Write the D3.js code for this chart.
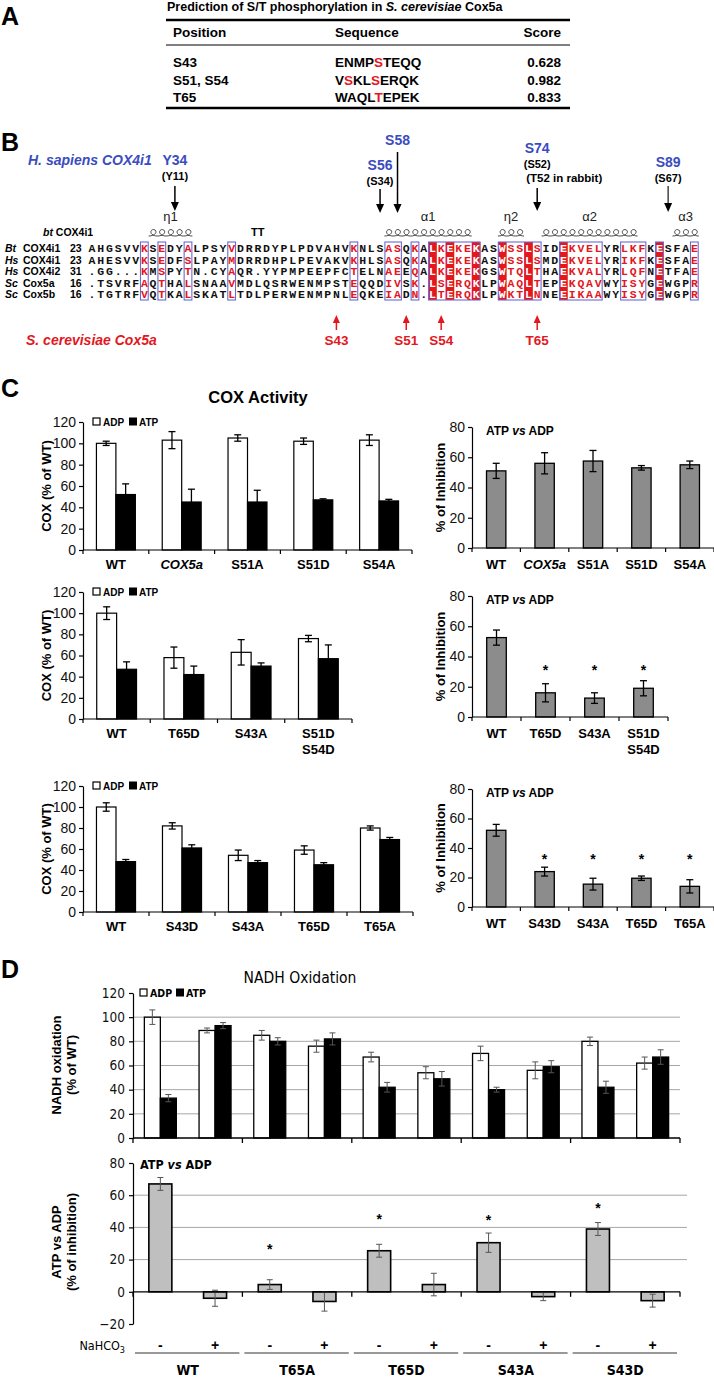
<!DOCTYPE html>
<html>
<head>
<meta charset="utf-8">
<script src="https://cdn.jsdelivr.net/npm/d3@7"></script>
<style>
body { margin: 0; background: #fff; }
text { font-family: Arial, "Liberation Sans", sans-serif; }
</style>
</head>
<body>
<script>
// ---------------- panel A : prediction table
var predTitle = [["Prediction of S/T phosphorylation in ", false], ["S. cerevisiae", true], [" Cox5a", false]];
var predHeader = ["Position", "Sequence", "Score"];
var predPositions = ["S43", "S51, S54", "T65"];
var predSequences = ["ENMPSTEQQ", "VSKLSERQK", "WAQLTEPEK"];
var predSites = [[4], [1, 4], [4]];
var predScores = ["0.628", "0.982", "0.833"];

// ---------------- panel B : alignment
var alnSpecies = ["Bt", "Hs", "Hs", "Sc", "Sc"];
var alnNames = ["COX4i1", "COX4i1", "COX4i2", "Cox5a", "Cox5b"];
var alnStart = [23, 23, 31, 16, 16];
var alnSeqs = [
	"AHGSVVKSEDYALPSYVDRRDYPLPDVAHVKNLSASQKALKEKEKASWSSLSIDEKVELYRLKFKESFAE",
	"AHESVVKSEDFSLPAYMDRRDHPLPEVAKVKHLSASQKALKEKEKASWSSLSMDEKVELYRIKFKESFAE",
	".GG...KMSPYTN.CYAQR.YYPMPEEPFCTELNAEEQALKEKEKGSWTQLTHAEKVALYRLQFNETFAE",
	".TSVRFAQTHALSNAAVMDLQSRWENMPSTEQQDIVSK.LSERQKLPWAQLTEPEKQAVWYISYGEWGPR",
	".TGTRFVQTKALSKATLTDLPERWENMPNLEQKEIADN.LTERQKLPWKTLNNEEIKAAWYISYGEWGPR"
];
var simBoxFrom = [7, 9, 12, 17, 31, 35, 38, 40, 48, 55, 62, 66, 70];
var simBoxTo   = [7, 9, 12, 17, 31, 36, 38, 45, 52, 59, 64, 66, 70];
var identCols = [40, 42, 45, 48, 51, 55, 66];
var ssNames = ["η1", "α1", "η2", "α2", "α3"];
var ssFrom = [8, 35, 48, 53, 68];
var ssTo = [12, 44, 50, 63, 70];
var hsSites = ["Y34", "S56", "S58", "S74", "S89"];
var hsSiteCols = [10.5, 34, 36, 52, 67];
var hsSiteNotes = [["(Y11)"], ["(S34)"], [], ["(S52)", "(T52 in rabbit)"], ["(S67)"]];
var scSites = ["S43", "S51", "S54", "T65"];
var scSiteCols = [29, 37, 41, 52];

// ---------------- panel C : COX activity
var c1Groups = ["WT", "COX5a", "S51A", "S51D", "S54A"];
var c1Italic = [false, true, false, false, false];
var c1ADP = [100, 103, 105, 102, 103];
var c1ADPErr = [2, 8, 3, 3, 5];
var c1ATP = [52, 45, 45, 47, 46];
var c1ATPErr = [10, 12, 11, 1, 1.5];
var c1Inhib = [51, 56, 57.5, 53, 55];
var c1InhibErr = [5, 7, 7, 1.5, 2.5];

var c2Groups = ["WT", "T65D", "S43A", "S51D\nS54D"];
var c2ADP = [100, 58, 63, 76];
var c2ADPErr = [6, 10, 12, 3];
var c2ATP = [47, 42, 50, 57];
var c2ATPErr = [7, 8, 3, 13];
var c2Inhib = [52.5, 16, 12.5, 19];
var c2InhibErr = [5, 6, 3.5, 5];
var c2Star = [false, true, true, true];

var c3Groups = ["WT", "S43D", "S43A", "T65D", "T65A"];
var c3ADP = [100, 82, 54, 59, 80];
var c3ADPErr = [4, 3, 5, 4, 2];
var c3ATP = [48, 61, 47, 45, 69];
var c3ATPErr = [2, 3, 2, 2, 2];
var c3Inhib = [52, 24, 15.5, 19.5, 14];
var c3InhibErr = [4, 3, 4, 1.5, 4.5];
var c3Star = [false, true, true, true, true];

// ---------------- panel D : NADH oxidation
var nadhStrains = ["WT", "T65A", "T65D", "S43A", "S43D"];
var nadhBicarb = ["-", "+"];
var nadhADP =    [100, 89, 85, 76, 67, 54, 70, 56, 80, 62];
var nadhADPErr = [6, 2, 4, 5, 4, 5, 6, 7, 3.5, 5];
var nadhATP =    [33, 93, 80, 82, 42, 49, 40, 59, 42, 67];
var nadhATPErr = [3, 2.5, 3, 5, 4, 6, 2, 5, 5, 6];
var nadhInhib =    [67, -4, 4.5, -6, 25.5, 4.5, 30.5, -3, 39, -5.5];
var nadhInhibErr = [4, 5, 3, 6, 4, 7, 6, 2.5, 4, 4];
var nadhStarAt =   [null, null, 28, null, 46.5, null, 46, null, 53, null];

var RED = "#e3171e", BLUE = "#3b4cc0";
var NARROW = "'Liberation Sans Narrow', 'Arial Narrow', 'DejaVu Sans Condensed', sans-serif";

var svg = d3.select("body")
	.append("svg")
	  .attr("width", 714)
	  .attr("height", 1377)
	  .style("display", "block");
svg.append("rect").attr("width", 714).attr("height", 1377).attr("fill", "#fff");

function richText(g, x, y, parts, size, weight, anchor, family) {
	var t = g.append("text")
		.attr("x", x).attr("y", y)
		.attr("font-size", size)
		.attr("font-weight", weight || "bold")
		.attr("text-anchor", anchor || "start");
	if (family) t.style("font-family", family);
	parts.forEach(function(p) {
		var s = t.append("tspan").text(p[0]);
		if (p[1]) s.attr("font-style", "italic");
		if (p[2]) s.attr("fill", p[2]);
	});
	return t;
}

function styleAxis(sel, size, family) {
	sel.select(".domain").attr("stroke", "#000").attr("stroke-width", 1.2);
	sel.selectAll(".tick line").attr("stroke", "#000").attr("stroke-width", 1.2);
	sel.selectAll(".tick text")
		.attr("font-size", size)
		.attr("fill", "#111")
		.style("font-family", family || "Arial, 'Liberation Sans', sans-serif");
}

function errBars(g, data, xf, yf, cap, color, width) {
	var e = g.append("g").selectAll("g").data(data).join("g")
		.attr("stroke", color).attr("stroke-width", width);
	e.append("line")
		.attr("x1", xf).attr("x2", xf)
		.attr("y1", function(d) { return yf(d.v + d.e); })
		.attr("y2", function(d) { return yf(d.v - d.e); });
	[1, -1].forEach(function(s) {
		e.append("line")
			.attr("x1", function(d) { return xf(d) - cap; })
			.attr("x2", function(d) { return xf(d) + cap; })
			.attr("y1", function(d) { return yf(d.v + s * d.e); })
			.attr("y2", function(d) { return yf(d.v + s * d.e); });
	});
}

function groupLabels(g, labels, italic, xf, y, size, family) {
	labels.forEach(function(l, i) {
		var t = g.append("text")
			.attr("x", xf(l))
			.attr("y", y)
			.attr("text-anchor", "middle")
			.attr("font-size", size)
			.attr("font-weight", "bold");
		if (family) t.style("font-family", family);
		if (italic && italic[i]) t.attr("font-style", "italic");
		l.split("\n").forEach(function(line, k) {
			t.append("tspan").attr("x", xf(l)).attr("dy", k ? 16 : 0).text(line);
		});
	});
}

function vertLabel(g, x, y, lines, size, family) {
	lines.forEach(function(parts, k) {
		var t = richText(g, 0, 0, parts, size, "bold", "middle", family);
		t.attr("transform", "translate(" + (x + k * 15) + "," + y + ") rotate(-90)");
	});
}

// ---------------- panel letters
var panelLetters = ["A", "B", "C", "D"];
var panelLetterY = [25, 151, 397, 978];
panelLetters.forEach(function(l, i) {
	svg.append("text").attr("x", 1).attr("y", panelLetterY[i])
		.attr("font-size", 25).attr("font-weight", "bold").text(l);
});

// ---------------- panel A
var ga = svg.append("g");
richText(ga, 167, 11, predTitle, 12.5, "bold");
ga.append("line").attr("x1", 166).attr("x2", 570).attr("y1", 20).attr("y2", 20)
	.attr("stroke", "#000").attr("stroke-width", 2.5);
ga.append("line").attr("x1", 166).attr("x2", 570).attr("y1", 45).attr("y2", 45)
	.attr("stroke", "#000").attr("stroke-width", 1);
ga.append("line").attr("x1", 166).attr("x2", 570).attr("y1", 108).attr("y2", 108)
	.attr("stroke", "#000").attr("stroke-width", 2.5);
var colX = [173, 335, 561];
predHeader.forEach(function(h, i) {
	ga.append("text").attr("x", colX[i]).attr("y", 37)
		.attr("text-anchor", i == 2 ? "end" : "start")
		.attr("font-size", 13.5).attr("font-weight", "bold").text(h);
});
var rowY = d3.scalePoint().domain(predPositions).range([67, 102]);
predPositions.forEach(function(p, i) {
	var yy = rowY(p);
	ga.append("text").attr("x", colX[0]).attr("y", yy)
		.attr("font-size", 13.5).attr("font-weight", "bold").text(p);
	var parts = predSequences[i].split("").map(function(c, k) {
		return [c, false, predSites[i].indexOf(k) >= 0 ? RED : null];
	});
	richText(ga, colX[1], yy, parts, 13.5, "bold");
	ga.append("text").attr("x", colX[2]).attr("y", yy).attr("text-anchor", "end")
		.attr("font-size", 13.5).attr("font-weight", "bold").text(predScores[i]);
});

// ---------------- panel B
var gb = svg.append("g");
var colScale = d3.scaleLinear().domain([0, 70]).range([87.6, 698.7]);   // column edge
function colC(c) { return colScale(c - 0.5); }
var alnY = d3.scaleLinear().domain([0, 4]).range([248, 294]);
var boxTop = 242, boxBot = 300;

richText(gb, 28, 165, [["H. sapiens COX4i1", true]], 14, "bold").attr("fill", BLUE);

// blue labelled arrows (human sites)
var hsLabelY = [165, 170, 145, 153, 167];
var hsArrowY = [[186, 211], [189, 213], [152, 213], [188, 211], [186, 212]];
hsSites.forEach(function(s, i) {
	var cx = colC(hsSiteCols[i]);
	gb.append("text").attr("x", cx).attr("y", hsLabelY[i]).attr("text-anchor", "middle")
		.attr("font-size", 14).attr("font-weight", "bold").attr("fill", BLUE).text(s);
	hsSiteNotes[i].forEach(function(n, k) {
		var wide = n.length > 6;
		gb.append("text").attr("x", wide ? cx - 11 : cx).attr("y", hsLabelY[i] + 15 + k * 14)
			.attr("text-anchor", wide ? "start" : "middle")
			.attr("font-size", wide ? 11.5 : 11).attr("font-weight", "bold").text(n);
	});
	var a = hsArrowY[i];
	gb.append("line").attr("x1", cx).attr("x2", cx).attr("y1", a[0]).attr("y2", a[1] - 8)
		.attr("stroke", i == 4 ? "#444" : "#000").attr("stroke-width", 1.5);
	gb.append("path")
		.attr("d", "M" + (cx - 4) + "," + (a[1] - 9) + "L" + (cx + 4) + "," + (a[1] - 9) + "L" + cx + "," + a[1] + "Z")
		.attr("fill", "#000");
});

// secondary structure
function coilPath(xs, xe, y, n) {
	var p = (xe - xs) / n, d = "M" + xs + "," + y;
	for (var i = 0; i < n; i++) {
		var a = xs + i * p;
		d += "C" + (a + p * 0.9) + "," + y + " " + (a + p * 1.05) + "," + (y - 6) + " " + (a + p * 0.55) + "," + (y - 6.5) +
			"C" + (a + p * 0.05) + "," + (y - 6) + " " + (a + p * 0.15) + "," + y + " " + (a + p) + "," + y;
	}
	return d;
}
ssNames.forEach(function(n, i) {
	var x0 = colScale(ssFrom[i] - 1), x1 = colScale(ssTo[i]);
	gb.append("path").attr("d", coilPath(x0, x1, 236, ssTo[i] - ssFrom[i] + 1))
		.attr("fill", "none").attr("stroke", "#333").attr("stroke-width", 0.9);
	gb.append("text").attr("x", (x0 + x1) / 2).attr("y", 221).attr("text-anchor", "middle")
		.attr("font-size", 13).attr("fill", "#222").text(n);
});
gb.append("text").attr("x", colC(20)).attr("y", 236).attr("text-anchor", "middle")
	.attr("font-size", 11).attr("font-weight", "bold").text("TT");
richText(gb, 43, 236, [["bt", true], [" COX4i1", false]], 10.5, "bold");

// identity fills and similarity boxes
identCols.forEach(function(c) {
	gb.append("rect").attr("x", colScale(c - 1)).attr("y", boxTop)
		.attr("width", colScale(c) - colScale(c - 1)).attr("height", boxBot - boxTop)
		.attr("fill", RED);
});
simBoxFrom.forEach(function(f, i) {
	gb.append("rect").attr("x", colScale(f - 1) + 0.5).attr("y", boxTop)
		.attr("width", colScale(simBoxTo[i]) - colScale(f - 1) - 1).attr("height", boxBot - boxTop)
		.attr("fill", "none").attr("stroke", "#6a6ad4").attr("stroke-width", 1.1);
});
function inSim(c) {
	for (var i = 0; i < simBoxFrom.length; i++) if (c >= simBoxFrom[i] && c <= simBoxTo[i]) return true;
	return false;
}
alnSeqs.forEach(function(seq, r) {
	var yy = alnY(r) + 4;
	richText(gb, 5, yy, [[alnSpecies[r], true]], 10.5, "bold");
	gb.append("text").attr("x", 23).attr("y", yy).attr("font-size", 10.5).attr("font-weight", "bold").text(alnNames[r]);
	gb.append("text").attr("x", 70).attr("y", yy).attr("font-size", 10.5).attr("font-weight", "bold").text(alnStart[r]);
	gb.selectAll(null).data(seq.split("")).join("text")
		.attr("x", function(d, k) { return colC(k + 1); })
		.attr("y", yy)
		.attr("text-anchor", "middle")
		.attr("font-size", 11.5)
		.attr("font-weight", "bold")
		.style("font-family", "'Liberation Mono', 'DejaVu Sans Mono', monospace")
		.attr("fill", function(d, k) {
			if (identCols.indexOf(k + 1) >= 0) return "#fff";
			return inSim(k + 1) ? RED : "#111";
		})
		.text(function(d) { return d; });
});

// red arrows (yeast sites)
scSites.forEach(function(s, i) {
	var cx = colC(scSiteCols[i]);
	gb.append("line").attr("x1", cx).attr("x2", cx).attr("y1", 322).attr("y2", 330)
		.attr("stroke", RED).attr("stroke-width", 1.5);
	gb.append("path").attr("d", "M" + (cx - 3.5) + ",323L" + (cx + 3.5) + ",323L" + cx + ",315Z").attr("fill", RED);
	gb.append("text").attr("x", cx).attr("y", 345).attr("text-anchor", "middle")
		.attr("font-size", 13.5).attr("font-weight", "bold").attr("fill", RED).text(s);
});
richText(gb, 26, 345, [["S. cerevisiae Cox5a", true]], 14, "bold").attr("fill", RED);

// ---------------- panel C
svg.append("text").attr("x", 258).attr("y", 403).attr("text-anchor", "middle")
	.attr("font-size", 16.5).attr("font-weight", "bold").text("COX Activity");

function legend(g, x, y, size, family) {
	g.append("rect").attr("x", x).attr("y", y - 4).attr("width", 7).attr("height", 7)
		.attr("fill", "#fff").attr("stroke", "#000").attr("stroke-width", 1.2);
	richText(g, x + 10, y + 4, [["ADP"]], size, "bold", "start", family);
	g.append("rect").attr("x", x + 36).attr("y", y - 4.5).attr("width", 8).attr("height", 8).attr("fill", "#000");
	richText(g, x + 46, y + 4, [["ATP"]], size, "bold", "start", family);
}

function pairChart(cfg) {
	var g = svg.append("g");
	var x = d3.scaleBand().domain(cfg.groups).range([cfg.x0, cfg.x1]);
	var xi = d3.scaleBand().domain(["ADP", "ATP"]).range([0, x.bandwidth()]).paddingOuter(0.69);
	var y = d3.scaleLinear().domain([0, 120]).range([cfg.yb, cfg.yt]);

	var rows = [];
	cfg.groups.forEach(function(gr, i) {
		rows.push({g: gr, k: "ADP", v: cfg.adp[i], e: cfg.adpErr[i]});
		rows.push({g: gr, k: "ATP", v: cfg.atp[i], e: cfg.atpErr[i]});
	});
	g.append("g").selectAll("rect").data(rows).join("rect")
		.attr("x", function(d) { return x(d.g) + xi(d.k); })
		.attr("y", function(d) { return y(d.v); })
		.attr("width", xi.bandwidth())
		.attr("height", function(d) { return y(0) - y(d.v); })
		.attr("fill", function(d) { return d.k == "ADP" ? "#fff" : "#000"; })
		.attr("stroke", "#000").attr("stroke-width", 1.2);
	errBars(g, rows, function(d) { return x(d.g) + xi(d.k) + xi.bandwidth() / 2; }, y, 3.5, "#000", 1.3);

	var ax = g.append("g").attr("transform", "translate(" + cfg.x0 + ",0)")
		.call(d3.axisLeft(y).tickValues(d3.range(0, 121, 20)).tickSize(4).tickSizeOuter(0).tickPadding(3));
	styleAxis(ax, 14);
	g.append("line").attr("x1", cfg.x0).attr("x2", cfg.x1).attr("y1", cfg.yb).attr("y2", cfg.yb)
		.attr("stroke", "#000").attr("stroke-width", 1.2);
	g.selectAll(null).data(d3.range(cfg.groups.length + 1)).join("line")
		.attr("x1", function(i) { return cfg.x0 + i * x.step(); })
		.attr("x2", function(i) { return cfg.x0 + i * x.step(); })
		.attr("y1", cfg.yb).attr("y2", cfg.yb + 4)
		.attr("stroke", "#000").attr("stroke-width", 1.2);
	groupLabels(g, cfg.groups, cfg.italic, function(l) { return x(l) + x.bandwidth() / 2; }, cfg.yb + 19, 13);
	legend(g, cfg.x0 + 10, cfg.yt, 10);
	vertLabel(g, 51, (cfg.yb + cfg.yt) / 2, [[["COX (% of WT)"]]], 13);
}

function inhibChart(cfg) {
	var g = svg.append("g");
	var x = d3.scaleBand().domain(cfg.groups).range([cfg.x0, cfg.x1]).paddingInner(0.6).paddingOuter(0.3);
	var y = d3.scaleLinear().domain([0, 80]).range([cfg.yb, cfg.yt]);
	var rows = cfg.groups.map(function(gr, i) { return {g: gr, v: cfg.vals[i], e: cfg.errs[i], s: cfg.stars ? cfg.stars[i] : false}; });

	g.append("g").selectAll("rect").data(rows).join("rect")
		.attr("x", function(d) { return x(d.g); })
		.attr("y", function(d) { return y(d.v); })
		.attr("width", x.bandwidth())
		.attr("height", function(d) { return y(0) - y(d.v); })
		.attr("fill", "#8c8c8c")
		.attr("stroke", "#000").attr("stroke-width", 1.3);
	errBars(g, rows, function(d) { return x(d.g) + x.bandwidth() / 2; }, y, 3.5, "#000", 1.3);
	g.selectAll(null).data(rows.filter(function(d) { return d.s; })).join("text")
		.attr("x", function(d) { return x(d.g) + x.bandwidth() / 2; })
		.attr("y", y(cfg.starAt) + 7)
		.attr("text-anchor", "middle").attr("font-size", 14).attr("font-weight", "bold")
		.text("*");

	var ax = g.append("g").attr("transform", "translate(" + cfg.x0 + ",0)")
		.call(d3.axisLeft(y).tickValues(d3.range(0, 81, 20)).tickSize(4).tickSizeOuter(0).tickPadding(3));
	styleAxis(ax, 14);
	g.append("line").attr("x1", cfg.x0).attr("x2", cfg.x1).attr("y1", cfg.yb).attr("y2", cfg.yb)
		.attr("stroke", "#000").attr("stroke-width", 1.2);
	g.selectAll(null).data(d3.range(cfg.groups.length + 1)).join("line")
		.attr("x1", function(i) { return cfg.x0 + i * x.step(); })
		.attr("x2", function(i) { return cfg.x0 + i * x.step(); })
		.attr("y1", cfg.yb).attr("y2", cfg.yb + 4)
		.attr("stroke", "#000").attr("stroke-width", 1.2);
	groupLabels(g, cfg.groups, cfg.italic, function(l) { return x(l) + x.bandwidth() / 2; }, cfg.yb + 21, 13);
	richText(g, cfg.x0 + 14, cfg.yt + 8, [["ATP "], ["vs", true], [" ADP"]], 12, "bold");
	vertLabel(g, 445, (cfg.yb + cfg.yt) / 2, [[["% of Inhibition"]]], 13);
}

pairChart({groups: c1Groups, italic: c1Italic, adp: c1ADP, adpErr: c1ADPErr, atp: c1ATP, atpErr: c1ATPErr,
	x0: 83, x1: 412, yb: 550, yt: 422});
inhibChart({groups: c1Groups, italic: c1Italic, vals: c1Inhib, errs: c1InhibErr,
	x0: 472, x1: 714, yb: 548, yt: 427});
pairChart({groups: c2Groups, adp: c2ADP, adpErr: c2ADPErr, atp: c2ATP, atpErr: c2ATPErr,
	x0: 83, x1: 352, yb: 719, yt: 592});
inhibChart({groups: c2Groups, vals: c2Inhib, errs: c2InhibErr, stars: c2Star, starAt: 32.5,
	x0: 472, x1: 668, yb: 717, yt: 596});
pairChart({groups: c3Groups, adp: c3ADP, adpErr: c3ADPErr, atp: c3ATP, atpErr: c3ATPErr,
	x0: 83, x1: 413, yb: 912, yt: 786});
inhibChart({groups: c3Groups, vals: c3Inhib, errs: c3InhibErr, stars: c3Star, starAt: 34,
	x0: 472, x1: 714, yb: 907, yt: 789});

// ---------------- panel D
var gd = svg.append("g");
richText(gd, 300, 983, [["NADH Oxidation"]], 15.5, "normal", "middle", NARROW);

var dx = d3.scaleBand().domain(nadhStrains).range([133, 680]);
var dsub = d3.scaleBand().domain(nadhBicarb).range([0, dx.bandwidth()]);
var dbar = d3.scaleBand().domain(["ADP", "ATP"]).range([0, dsub.bandwidth()]).paddingOuter(0.71);
var dyTop = d3.scaleLinear().domain([0, 120]).range([1138, 993]);
var dyBot = d3.scaleLinear().domain([-20, 80]).range([1324, 1163]);

var dRows = [], iRows = [];
nadhStrains.forEach(function(s, i) {
	nadhBicarb.forEach(function(b, j) {
		var k = i * 2 + j;
		dRows.push({s: s, b: b, k: "ADP", v: nadhADP[k], e: nadhADPErr[k]});
		dRows.push({s: s, b: b, k: "ATP", v: nadhATP[k], e: nadhATPErr[k]});
		iRows.push({s: s, b: b, v: nadhInhib[k], e: nadhInhibErr[k], star: nadhStarAt[k]});
	});
});
function subX(d) { return dx(d.s) + dsub(d.b); }

// top chart
gd.append("g").selectAll("line").data([20, 40, 60, 80, 100]).join("line")
	.attr("x1", 133).attr("x2", 680)
	.attr("y1", dyTop).attr("y2", dyTop)
	.attr("stroke", "#a6a6a6").attr("stroke-width", 1);
gd.append("g").selectAll("rect").data(dRows).join("rect")
	.attr("x", function(d) { return subX(d) + dbar(d.k); })
	.attr("y", function(d) { return dyTop(d.v); })
	.attr("width", dbar.bandwidth())
	.attr("height", function(d) { return dyTop(0) - dyTop(d.v); })
	.attr("fill", function(d) { return d.k == "ADP" ? "#fff" : "#000"; })
	.attr("stroke", "#000").attr("stroke-width", 1.3);
errBars(gd, dRows, function(d) { return subX(d) + dbar(d.k) + dbar.bandwidth() / 2; }, dyTop, 3, "#555", 1);
var dAxTop = gd.append("g").attr("transform", "translate(133,0)")
	.call(d3.axisLeft(dyTop).tickValues(d3.range(0, 121, 20)).tickSize(4).tickSizeOuter(0).tickPadding(4));
styleAxis(dAxTop, 13.5, NARROW);
gd.append("line").attr("x1", 133).attr("x2", 680).attr("y1", dyTop(0)).attr("y2", dyTop(0))
	.attr("stroke", "#000").attr("stroke-width", 1.3);
gd.selectAll(null).data(d3.range(nadhStrains.length + 1)).join("line")
	.attr("x1", function(i) { return 133 + i * dx.step(); })
	.attr("x2", function(i) { return 133 + i * dx.step(); })
	.attr("y1", dyTop(0)).attr("y2", dyTop(0) + 5)
	.attr("stroke", "#000").attr("stroke-width", 1.3);
legend(gd, 140, 993, 10.5, NARROW);
vertLabel(gd, 61, 1065, [[["NADH oxidation"]], [["(% of WT)"]]], 13);

// bottom chart
gd.append("g").selectAll("line").data([20, 40, 60]).join("line")
	.attr("x1", 133).attr("x2", 687)
	.attr("y1", dyBot).attr("y2", dyBot)
	.attr("stroke", "#a6a6a6").attr("stroke-width", 1);
var ibw = 23;
gd.append("g").selectAll("rect").data(iRows).join("rect")
	.attr("x", function(d) { return subX(d) + dsub.bandwidth() / 2 - ibw / 2; })
	.attr("y", function(d) { return Math.min(dyBot(d.v), dyBot(0)); })
	.attr("width", ibw)
	.attr("height", function(d) { return Math.abs(dyBot(d.v) - dyBot(0)); })
	.attr("fill", "#bfbfbf")
	.attr("stroke", "#000").attr("stroke-width", 1.6);
errBars(gd, iRows, function(d) { return subX(d) + dsub.bandwidth() / 2; }, dyBot, 3, "#555", 1);
gd.selectAll(null).data(iRows.filter(function(d) { return d.star != null; })).join("text")
	.attr("x", function(d) { return subX(d) + dsub.bandwidth() / 2; })
	.attr("y", function(d) { return dyBot(d.star) + 7; })
	.attr("text-anchor", "middle").attr("font-size", 14).attr("font-weight", "bold")
	.attr("fill", "#000")
	.text("*");
var dAxBot = gd.append("g").attr("transform", "translate(133,0)")
	.call(d3.axisLeft(dyBot).tickValues(d3.range(-20, 81, 20)).tickSize(4).tickSizeOuter(0).tickPadding(4));
styleAxis(dAxBot, 13.5, NARROW);
gd.append("line").attr("x1", 133).attr("x2", 680).attr("y1", dyBot(0)).attr("y2", dyBot(0))
	.attr("stroke", "#000").attr("stroke-width", 1.3);
gd.selectAll(null).data(d3.range(nadhStrains.length + 1)).join("line")
	.attr("x1", function(i) { return 133 + i * dx.step(); })
	.attr("x2", function(i) { return 133 + i * dx.step(); })
	.attr("y1", dyBot(0)).attr("y2", dyBot(0) + 5)
	.attr("stroke", "#000").attr("stroke-width", 1.3);
richText(gd, 140, 1169, [["ATP "], ["vs", true], [" ADP"]], 12.5, "bold", "start", NARROW);
vertLabel(gd, 61, 1242, [[["ATP vs ADP"]], [["(% of inhibition)"]]], 13);

// NaHCO3 row and strain labels
var nt = richText(gd, 125, 1350, [["NaHCO"]], 12.5, "normal", "end", NARROW);
nt.append("tspan").attr("font-size", 9).attr("dy", 3).text("3");
iRows.forEach(function(d) {
	gd.append("text").attr("x", subX(d) + dsub.bandwidth() / 2).attr("y", 1350)
		.attr("text-anchor", "middle").attr("font-size", 14).attr("font-weight", "bold")
		.text(d.b);
});
nadhStrains.forEach(function(s) {
	gd.append("line").attr("x1", dx(s) + 2).attr("x2", dx(s) + dx.bandwidth() - 3)
		.attr("y1", 1353).attr("y2", 1353)
		.attr("stroke", "#777").attr("stroke-width", 1.3);
});
groupLabels(gd, nadhStrains, null, function(l) { return dx(l) + dx.bandwidth() / 2; }, 1375, 14, NARROW);
</script>
</body>
</html>
